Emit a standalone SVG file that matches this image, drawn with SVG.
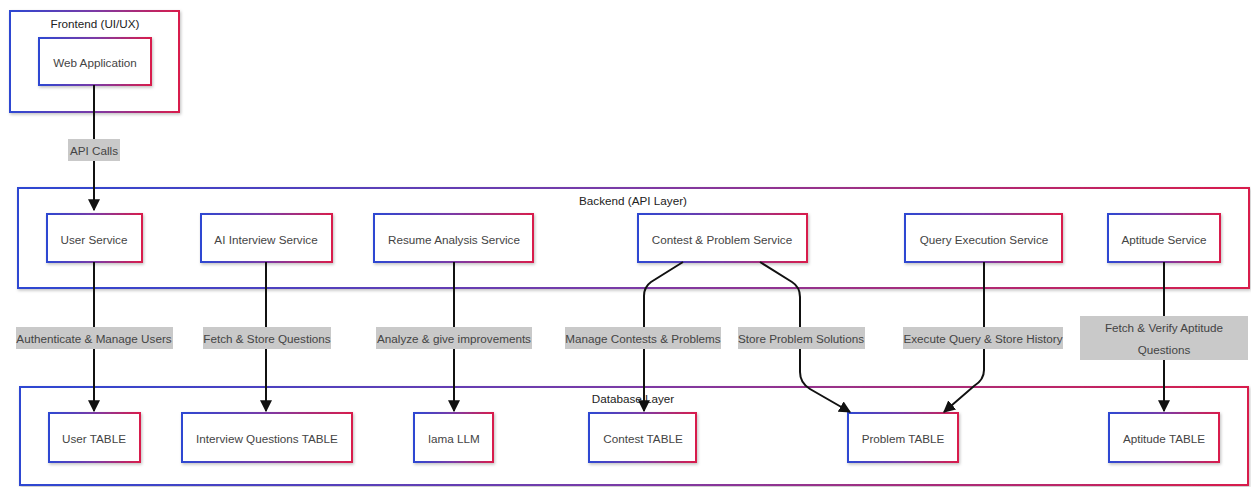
<svg xmlns="http://www.w3.org/2000/svg" width="1251" height="487" viewBox="0 0 1251 487">
<defs>
<linearGradient id="g" x1="0" y1="0" x2="1" y2="0">
<stop offset="0" stop-color="#2d47d2"/>
<stop offset="0.5" stop-color="#7b3aa6"/>
<stop offset="1" stop-color="#d81d4c"/>
</linearGradient>
<filter id="sh" x="-10%" y="-10%" width="130%" height="140%">
<feDropShadow dx="1" dy="1.5" stdDeviation="1.5" flood-color="#000" flood-opacity="0.25"/>
</filter>
<marker id="ah" markerUnits="userSpaceOnUse" markerWidth="12" markerHeight="12" viewBox="0 0 10 10" refX="9" refY="5" orient="auto">
<path d="M0,0 L10,5 L0,10 z" fill="#111"/>
</marker>
<style>
.layer{fill:#fff;stroke:url(#g);stroke-width:2;filter:url(#sh)}
.node{fill:#fff;stroke:url(#g);stroke-width:2;filter:url(#sh)}
.t{font-family:"Liberation Sans",Arial,sans-serif;font-size:11.7px;fill:#444;text-anchor:middle;dominant-baseline:central}
.lt{font-family:"Liberation Sans",Arial,sans-serif;font-size:11.7px;fill:#222;text-anchor:middle;dominant-baseline:central}
.e{fill:none;stroke:#111;stroke-width:2;marker-end:url(#ah)}
.lb{fill:#c9c9c9}
</style>
</defs>
<g id="frontend">
<rect class="layer" x="10" y="11" width="169" height="101"/>
<text class="lt" x="95" y="23">Frontend (UI/UX)</text>
</g>
<g id="backend">
<rect class="layer" x="18" y="188" width="1231" height="100"/>
<text class="lt" x="633" y="200">Backend (API Layer)</text>
</g>
<g id="database">
<rect class="layer" x="20" y="387" width="1228" height="98"/>
<text class="lt" x="633" y="398">Database Layer</text>
</g>
<g id="web-app"><rect class="node" x="39" y="38" width="112" height="47"/><text class="t" x="95" y="62">Web Application</text></g>
<g id="user-service"><rect class="node" x="47" y="214" width="95" height="48"/><text class="t" x="94" y="239">User Service</text></g>
<g id="ai-interview-service"><rect class="node" x="201" y="214" width="131" height="48"/><text class="t" x="266" y="239">AI Interview Service</text></g>
<g id="resume-analysis-service"><rect class="node" x="374" y="214" width="159" height="48"/><text class="t" x="454" y="239">Resume Analysis Service</text></g>
<g id="contest-problem-service"><rect class="node" x="638" y="214" width="169" height="48"/><text class="t" x="722" y="239">Contest &amp; Problem Service</text></g>
<g id="query-execution-service"><rect class="node" x="905" y="214" width="157" height="48"/><text class="t" x="984" y="239">Query Execution Service</text></g>
<g id="aptitude-service"><rect class="node" x="1108" y="214" width="112" height="48"/><text class="t" x="1164" y="239">Aptitude Service</text></g>
<g id="user-table"><rect class="node" x="49" y="413" width="91" height="49"/><text class="t" x="94" y="438">User TABLE</text></g>
<g id="interview-questions-table"><rect class="node" x="182" y="413" width="170" height="49"/><text class="t" x="267" y="438">Interview Questions TABLE</text></g>
<g id="lama-llm"><rect class="node" x="414" y="413" width="79" height="49"/><text class="t" x="454" y="438">lama LLM</text></g>
<g id="contest-table"><rect class="node" x="589" y="413" width="107" height="49"/><text class="t" x="643" y="438">Contest TABLE</text></g>
<g id="problem-table"><rect class="node" x="848" y="413" width="110" height="49"/><text class="t" x="903" y="438">Problem TABLE</text></g>
<g id="aptitude-table"><rect class="node" x="1109" y="413" width="110" height="49"/><text class="t" x="1164" y="438">Aptitude TABLE</text></g>
<g id="connectors">
<path class="e" d="M94,85 V210"/>
<path class="e" d="M94,262 V411"/>
<path class="e" d="M266,262 V411"/>
<path class="e" d="M454,262 V411"/>
<path class="e" d="M683,262 L651,282 Q644,287 644,296 V411"/>
<path class="e" d="M760,262 L792,282 Q800,287 800,297 V372 Q800,383 810,389 L850,412"/>
<path class="e" d="M984,262 V370 Q984,380 974,386 L944,412"/>
<path class="e" d="M1164,262 V411"/>
<rect class="lb" x="68" y="139" width="52" height="22"/><text class="t" x="94" y="150">API Calls</text>
<rect class="lb" x="16" y="327" width="157" height="22"/><text class="t" x="94" y="338">Authenticate &amp; Manage Users</text>
<rect class="lb" x="203" y="327" width="128" height="22"/><text class="t" x="267" y="338">Fetch &amp; Store Questions</text>
<rect class="lb" x="376" y="327" width="156" height="22"/><text class="t" x="454" y="338">Analyze &amp; give improvements</text>
<rect class="lb" x="565" y="327" width="156" height="22"/><text class="t" x="643" y="338">Manage Contests &amp; Problems</text>
<rect class="lb" x="738" y="327" width="127" height="22"/><text class="t" x="801" y="338">Store Problem Solutions</text>
<rect class="lb" x="903" y="327" width="160" height="22"/><text class="t" x="983" y="338">Execute Query &amp; Store History</text>
<rect class="lb" x="1080" y="316" width="168" height="44"/><text class="t" x="1164" y="327">Fetch &amp; Verify Aptitude</text><text class="t" x="1164" y="349">Questions</text>
</g>
</svg>
